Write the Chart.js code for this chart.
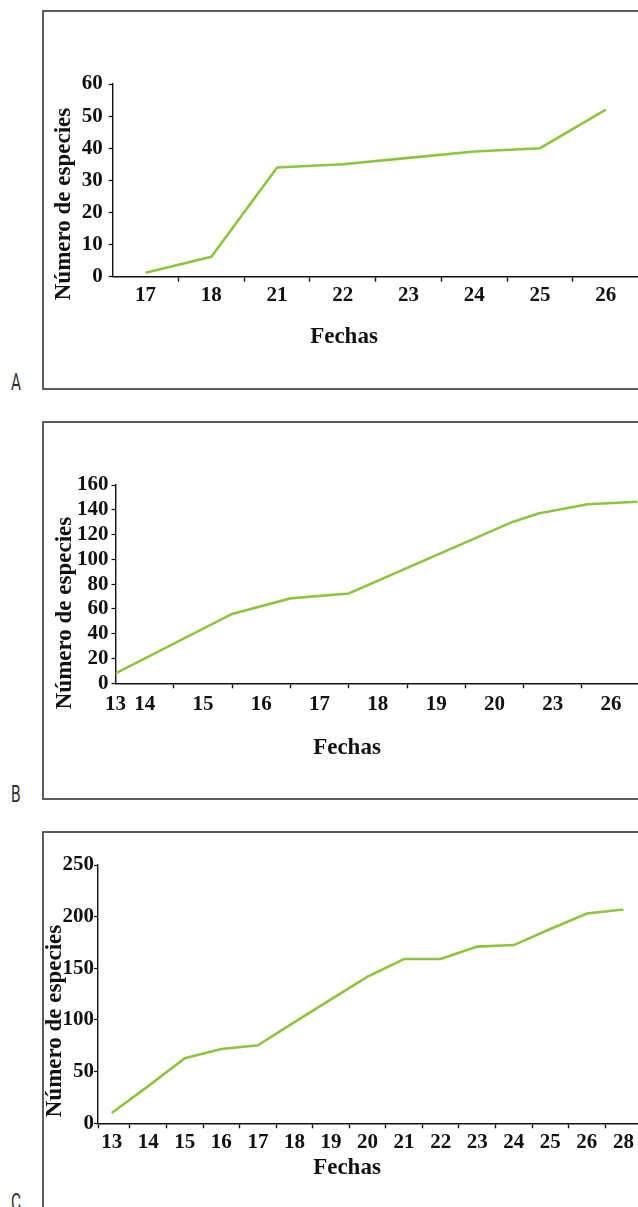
<!DOCTYPE html>
<html>
<head>
<meta charset="utf-8">
<script src="https://cdn.jsdelivr.net/npm/chart.js@4.4.1/dist/chart.umd.min.js"></script>
<style>
html, body { margin: 0; padding: 0; background: #fff; width: 638px; height: 1207px; overflow: hidden; }
.box { position: absolute; left: 42px; width: 700px; box-sizing: border-box; border: 2px solid #5c5c5c; }
.tag { position: absolute; left: 11px; font-family: Roboto, "DejaVu Sans", sans-serif; font-size: 24px;
       line-height: 24px; color: #2e2e2e; transform: scaleX(0.64); transform-origin: left top; }
canvas { position: absolute; left: 0; }
</style>
</head>
<body>
<div class="box" style="top:10px;height:380px"></div>
<div class="box" style="top:421px;height:379px"></div>
<div class="box" style="top:831px;height:400px"></div>
<div class="tag" style="top:370px">A</div>
<div class="tag" style="top:782px">B</div>
<div class="tag" style="top:1190px">C</div>
<canvas id="chartA" width="700" height="378" style="top:11px"></canvas>
<canvas id="chartB" width="700" height="377" style="top:422px"></canvas>
<canvas id="chartC" width="700" height="375" style="top:832px"></canvas>
<script>
// --------------------
// Data
// --------------------
const aDates = ['17', '18', '21', '22', '23', '24', '25', '26'];
const aSpecies = [1.2, 6.2, 34, 35, 37, 39, 40, 52];
const aTicks = [0, 10, 20, 30, 40, 50, 60];

// panel B: the line is drawn against tick units of the date axis ('13' sits at the origin)
const bDates = ['13', '14', '15', '16', '17', '18', '19', '20', '23', '26'];
const bAt = [0, 2, 3, 4, 6.8, 7.25, 8.1, 8.95];
const bSpecies = [8, 56, 68.5, 72.5, 130, 137, 144.5, 146.5];
const bTicks = [0, 20, 40, 60, 80, 100, 120, 140, 160];

const cDates = ['13', '14', '15', '16', '17', '18', '19', '20', '21', '22', '23', '24', '25', '26', '28'];
const cSpecies = [10, 36, 63, 72, 75.5, 98, 120, 142, 159, 159, 171, 172.5, 188, 203, 207];
const cTicks = [0, 50, 100, 150, 200, 250];

const xTitle = 'Fechas';
const yTitle = 'Número de especies';

// --------------------
// Helpers
// --------------------
Chart.defaults.font.family = '"Liberation Serif", "Times New Roman", serif';
Chart.defaults.font.weight = 'bold';
Chart.defaults.font.size = 21;
Chart.defaults.color = '#111';

// draws the two axis titles where the original figure has them
const axisTitles = {
    id: 'axisTitles',
    afterDraw(chart, args, o) {
        const ctx = chart.ctx;
        ctx.save();
        ctx.fillStyle = '#111';
        ctx.font = 'bold 23px "Liberation Serif", "Times New Roman", serif';
        ctx.textAlign = 'center';
        ctx.textBaseline = 'middle';
        ctx.fillText(xTitle, o.x[0], o.x[1]);
        ctx.translate(o.y[0], o.y[1]);
        ctx.rotate(-Math.PI / 2);
        ctx.fillText(yTitle, 0, 0);
        ctx.restore();
    }
};

// label ticks (no mark) + tick marks (no label), sorted along the axis
function dateTicks(labels, labelAt, marks) {
    const t = labels.map((name, i) => ({ value: labelAt[i], name: name, mark: false }))
        .concat(marks.map(v => ({ value: v, name: '', mark: true })));
    return t.sort((p, q) => p.value - q.value);
}

function makePanel(id, cfg) {
    const ctx = document.getElementById(id).getContext('2d');
    new Chart(ctx, {
        type: 'line',
        data: {
            datasets: [{
                data: cfg.points,
                borderColor: '#8cc63f',
                borderWidth: 2.6,
                pointRadius: 0,
                tension: 0
            }]
        },
        options: {
            responsive: false,
            animation: false,
            events: [],
            layout: { padding: cfg.padding },
            plugins: {
                legend: { display: false },
                tooltip: { enabled: false },
                axisTitles: cfg.titles
            },
            scales: {
                x: {
                    type: 'linear',
                    min: cfg.xMin,
                    max: cfg.xMax,
                    afterBuildTicks: s => { s.ticks = cfg.xTicks; },
                    afterFit: s => { s.height = 40; },
                    border: { color: '#111', width: 1.4 },
                    grid: {
                        drawOnChartArea: false,
                        tickLength: 5,
                        tickWidth: 1.4,
                        tickColor: c => (c.tick && c.tick.mark ? '#111' : 'rgba(0,0,0,0)')
                    },
                    ticks: {
                        autoSkip: false,
                        maxRotation: 0,
                        minRotation: 0,
                        padding: cfg.xPad,
                        callback: (v, i, ticks) => ticks[i].name
                    }
                },
                y: {
                    min: cfg.yTicks[0],
                    max: cfg.yTicks[cfg.yTicks.length - 1],
                    afterBuildTicks: s => { s.ticks = cfg.yTicks.map(v => ({ value: v })); },
                    afterFit: s => { s.width = 40; },
                    border: { color: '#111', width: 1.4 },
                    grid: { drawOnChartArea: false, tickLength: 4, tickWidth: 1.2, tickColor: '#111' },
                    ticks: { autoSkip: false, padding: cfg.yPad }
                }
            }
        },
        plugins: [axisTitles]
    });
}

// --------------------
// Panels
// --------------------
makePanel('chartA', {
    points: aSpecies.map((v, i) => ({ x: i + 0.5, y: v })),
    xMin: 0, xMax: aDates.length,
    xTicks: dateTicks(aDates, aDates.map((d, i) => i + 0.5), aDates.slice(1).map((d, i) => i + 1)),
    yTicks: aTicks,
    xPad: 1.5, yPad: 6,
    padding: { left: 72.7, right: 61.3, top: 73, bottom: 72.3 },
    titles: { x: [344, 326], y: [64, 193] }
});

makePanel('chartB', {
    points: bSpecies.map((v, i) => ({ x: bAt[i], y: v })),
    xMin: 0, xMax: bDates.length - 1,
    xTicks: dateTicks(bDates, bDates.map((d, i) => (i === 0 ? 0 : i - 0.5)), bDates.slice(2).map((d, i) => i + 1)),
    yTicks: bTicks,
    xPad: 4, yPad: 3,
    padding: { left: 75.5, right: 59.8, top: 63, bottom: 75.7 },
    titles: { x: [347, 325.7], y: [65, 191] }
});

makePanel('chartC', {
    points: cSpecies.map((v, i) => ({ x: i + 0.5, y: v })),
    xMin: 0.125, xMax: cDates.length,
    xTicks: dateTicks(cDates, cDates.map((d, i) => i + 0.5), [0.125].concat(cDates.slice(1).map((d, i) => i + 1))),
    yTicks: cTicks,
    xPad: 2, yPad: 0,
    padding: { left: 58, right: 58.3, top: 33, bottom: 43.7 },
    titles: { x: [347, 335.7], y: [55, 189] }
});
</script>
</body>
</html>
